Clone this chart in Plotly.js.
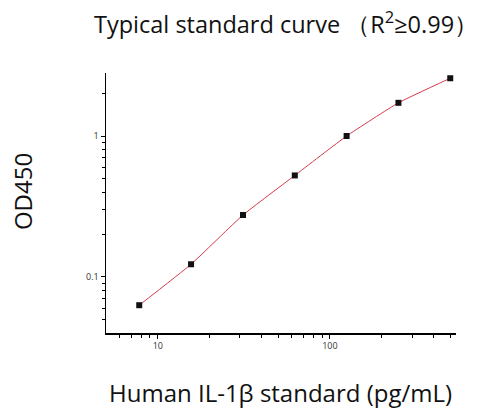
<!DOCTYPE html>
<html><head><meta charset="utf-8">
<script src="https://cdn.plot.ly/plotly-3.0.1.min.js"></script>
<style>html,body{margin:0;padding:0;background:#fff}#c{width:477px;height:408px}</style>
</head><body><div id="c"></div>
<script>
const concentrations = [7.8, 15.6, 31.25, 62.5, 125, 250, 500];
const odValues = [0.063, 0.123, 0.275, 0.525, 1.0, 1.72, 2.57];
const xTickVals = [10, 100];
const xTickText = ['10', '100'];
const yTickVals = [0.1, 1];
const yTickText = ['0.1', '1'];
const chartTitle = 'Typical standard curve （R<sup>2</sup>≥0.99）';
const xTitle = 'Human IL-1β standard (pg/mL)';
const yTitle = 'OD450';

const fontFam = '"Open Sans", "Noto Sans", sans-serif';
Plotly.newPlot('c', [
  {x: concentrations, y: odValues, mode: 'lines', line: {shape: 'spline', smoothing: 0.4, color: '#d43a4e', width: 1}, hoverinfo: 'skip'},
  {x: concentrations, y: odValues, mode: 'markers', marker: {symbol: 'square', size: 6, color: '#111'}}
], {
  width: 477, height: 408, showlegend: false,
  margin: {l: 106, r: 21, t: 73, b: 75},
  paper_bgcolor: '#fff', plot_bgcolor: '#fff',
  xaxis: {type: 'log', range: [Math.log10(5), Math.log10(540)], showline: true, linecolor: '#000', linewidth: 1.5,
    showgrid: false, zeroline: false, ticks: 'outside', ticklen: 4, tickcolor: '#000',
    tickvals: xTickVals, ticktext: xTickText, tickfont: {family: fontFam, size: 9, color: '#333'},
    minor: {ticks: 'outside', ticklen: 3, tickcolor: '#000', tickvals: [6,7,8,9,20,30,40,50,60,70,80,90,200,300,400,500], showgrid: false}},
  yaxis: {type: 'log', range: [Math.log10(0.04), Math.log10(2.8)], showline: true, linecolor: '#000', linewidth: 1.5,
    showgrid: false, zeroline: false, ticks: 'outside', ticklen: 4, tickcolor: '#000',
    tickvals: yTickVals, ticktext: yTickText, tickfont: {family: fontFam, size: 9, color: '#333'},
    minor: {ticks: 'outside', ticklen: 3, tickcolor: '#000', tickvals: [0.05,0.06,0.07,0.08,0.09,0.2,0.3,0.4,0.5,0.6,0.7,0.8,0.9,2], showgrid: false}},
  annotations: [
    {text: chartTitle, xref: 'paper', yref: 'paper', x: 0.514, y: 1.196, xanchor: 'center', yanchor: 'middle', showarrow: false,
     font: {family: fontFam, size: 23.5, color: '#111'}},
    {text: xTitle, xref: 'paper', yref: 'paper', x: 0.498, y: -0.227, xanchor: 'center', yanchor: 'middle', showarrow: false,
     font: {family: fontFam, size: 24, color: '#111'}},
    {text: yTitle, xref: 'paper', yref: 'paper', x: -0.24, y: 0.542, xanchor: 'center', yanchor: 'middle', showarrow: false, textangle: -90,
     font: {family: fontFam, size: 24, color: '#111'}}
  ]
}, {displayModeBar: false, staticPlot: true});
</script></body></html>
